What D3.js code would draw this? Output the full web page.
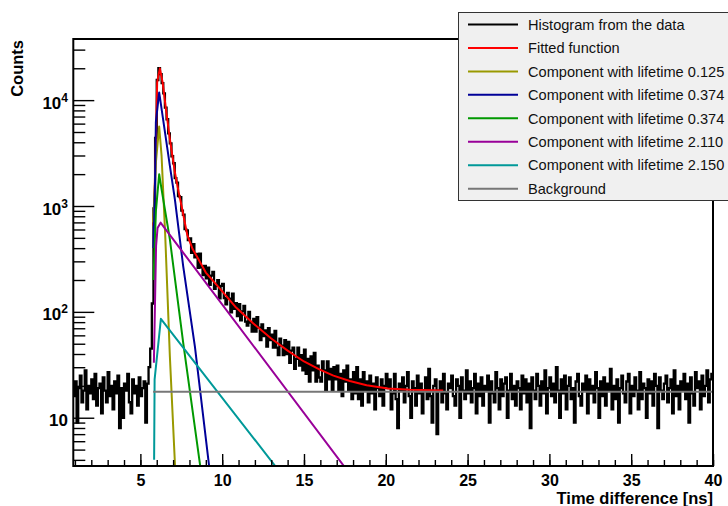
<!DOCTYPE html>
<html><head><meta charset="utf-8">
<script src="https://cdn.jsdelivr.net/npm/d3@7"></script>
<style>body{margin:0;background:#fff}svg{display:block}</style>
</head><body>
<svg id="c" width="728" height="506"></svg>
<script>
// ---------- data ----------
const histStart = 0.9, histWidth = 0.1;
const histBaseline = [16,22,9,19,25,14,18,28,12,20,17,23,15,26,13,19,21,11,24,18,14,27,16,20,12,22,17,25,8,19,10,21,18,26,14,11,23,17,20,13,24,16,19,22,9];
const histRise = [21,30,45,120,950,4400,15500,20000,17600];
const histTail = [14500,11600,8500,6600,4850,3900,2950,
  2533,1834,1664,1237,1212,906,827,605,589,477,
  494,360,435,328,352,261,354,263,223,272,
  207,261,180,220,239,165,176,199,134,176,
  184,135,118,151,133,99,149,107,121,91,
  118,83,101,114,81,74,100,79,65,86,
  65,89,71,54,76,59,67,47,70,54,
  61,46,66,46,39,56,48,39,54,40,
  52,33,43,46,29,36,46,31,39,28,
  44,26,36,22,38,28,41,22,31,24,
  22,34,28,18,34,23,29,18,30,23,
  31,18,26,16,28,22,31,18,23,15,
  27,17,30,15,23,13,27,18];
const histLate = [22,14,25,17,21,12,24,19,16,23,13,20,26,
  19,23,12,17,26,15,8,21,18,24,
  14,20,27,16,10,22,19,13,25,17,
  21,11,18,24,15,29,16,9,20,23,
  7,18,22,14,26,17,12,21,19,25,
  16,13,23,20,10,24,18,15,28,17,
  22,14,19,26,11,21,16,24,13,20,
  18,25,9,22,17,14,27,19,12,23,
  16,21,24,10,18,26,15,20,13,22,
  19,12,25,17,23,14,21,8,24,18,
  15,26,20,13,22,17,28,11,19,24,
  16,21,14,30,18,10,23,17,25,12,
  20,24,15,19,9,22,26,16,13,21,
  18,25,11,23,17,20,14,27,19,10,
  22,16,24,13,21,18,29,12,20,15,
  23,9,19,25,17,14,22,26,11,20,
  16,24,18,12,27,15,21,19,10,23,
  17,22,13,26,20,8,24,18,15,21,
  25,14,19,23,11,28,16,20,12,22,
  18,26,15,21,9,24,17,13,27,19,
  22,12,25,16,20,28,14,23,26];
const histCounts = histBaseline.concat(histRise, histTail, histLate);

const fitCurve = [[5.80,650],[5.886,1675],[6.027,14800],[6.19,19950],[6.357,14800],[6.6,7400],[6.803,4275],[7.109,2082],[7.35,1330],[7.518,1000],[7.87,530],[8.2,390],[8.5,325],[9.0,235],[9.86,166],[10.8,112],[11.89,78],[13.0,56],[14.0,43],[15.0,34],[15.97,28.5],[16.8,25],[17.8,22.2],[18.83,20.3],[20.13,18.9],[21.5,18.4],[23.51,18.1]];
const comp0125 = [[5.78,700],[5.95,2600],[6.149,5640],[6.296,2970],[6.516,539],[6.803,37.8],[7.13,3.2]];
const comp0374a = [[5.80,400],[5.90,1800],[5.947,6190],[6.149,11830],[6.803,2390],[7.109,1156],[7.414,483],[7.616,270],[8.331,47.3],[9.22,3.3]];
const comp0374b = [[5.80,200],[5.95,900],[6.149,1995],[6.296,1438],[6.803,483],[7.616,51.3],[8.68,3.3]];
const comp2110 = [[5.825,33],[5.96,420],[6.05,620],[6.235,696],[17.6,3.24]];
const comp2150 = [[5.84,4.0],[5.87,23],[6.253,86],[13.4,3.25]];
const background = [[5.78,17.6],[40,17.6]];

const xMajorTicks = [5,10,15,20,25,30,35,40];
const xMinorTicks = d3.range(1,41);
const yMajorTicks = [10,100,1000,10000];
const yMajorLabels = [["10",""],["10","2"],["10","3"],["10","4"]];
const yMinorTicks = [4,5,6,7,8,9,20,30,40,50,60,70,80,90,200,300,400,500,600,700,800,900,2000,3000,4000,5000,6000,7000,8000,9000,20000,30000];

const legendLabels = ["Histogram from the data","Fitted function","Component with lifetime 0.125","Component with lifetime 0.374","Component with lifetime 0.374","Component with lifetime 2.110","Component with lifetime 2.150","Background"];
const seriesColors = ["#000000","#ff0000","#999900","#000099","#009900","#990099","#009999","#777777"];

// ---------- layout ----------
const svg = d3.select("#c");
const L = 73.3, R = 713, T = 39, B = 466;
const x = d3.scaleLinear().domain([0.9, 40]).range([L, R]);
const y = d3.scaleLog().domain([3.5, 37800]).range([B, T]);
const font = "'Liberation Sans', Arial, Helvetica, sans-serif";

svg.append("rect").attr("width",728).attr("height",506).attr("fill","#fff");

svg.append("clipPath").attr("id","clip").append("rect")
  .attr("x",L).attr("y",T).attr("width",R-L).attr("height",B-T);

const plot = svg.append("g").attr("clip-path","url(#clip)");

// histogram
const histPts = histCounts.map((c,i)=>[histStart + i*histWidth, c]);
histPts.push([histStart + histCounts.length*histWidth, histCounts[histCounts.length-1]]);
const stepLine = d3.line().x(d=>x(d[0])).y(d=>y(d[1])).curve(d3.curveStepAfter);
plot.append("path").attr("d", stepLine(histPts)).attr("fill","none")
  .attr("stroke", seriesColors[0]).attr("stroke-width",2.3);

const ln = d3.line().x(d=>x(d[0])).y(d=>y(d[1]));
const curves = [fitCurve, comp0125, comp0374a, comp0374b, comp2110, comp2150, background];
curves.forEach((c,i)=>{
  plot.append("path").attr("d", ln(c)).attr("fill","none")
    .attr("stroke", seriesColors[i+1]).attr("stroke-width",2)
    .attr("stroke-linejoin","round");
});

// axes
const gx = svg.append("g").attr("transform",`translate(0,${B})`);
gx.call(d3.axisBottom(x).tickValues(xMinorTicks).tickSize(-6).tickFormat(""));
gx.call(g=>g.select(".domain").remove());
const gx2 = svg.append("g").attr("transform",`translate(0,${B})`);
gx2.call(d3.axisBottom(x).tickValues(xMajorTicks).tickSize(-12).tickPadding(8.5).tickFormat(d3.format("d")));
gx2.select(".domain").remove();
gx2.selectAll("text").attr("font-family",font).attr("font-weight","bold")
  .attr("font-size",16).attr("fill","#000");

const gy = svg.append("g").attr("transform",`translate(${L},0)`);
gy.call(d3.axisLeft(y).tickValues(yMinorTicks).tickSize(-12).tickFormat(""));
gy.select(".domain").remove();
const gy2 = svg.append("g").attr("transform",`translate(${L},0)`);
gy2.call(d3.axisLeft(y).tickValues(yMajorTicks).tickSize(-21).tickFormat(""));
gy2.select(".domain").remove();
svg.selectAll("g.tick line").attr("stroke","#000").attr("stroke-width",1.4);

yMajorTicks.forEach((v,i)=>{
  const t = svg.append("text").attr("x",68).attr("y",y(v)+8.5)
    .attr("text-anchor","end").attr("font-family",font).attr("font-weight","bold")
    .attr("font-size",17).attr("fill","#000");
  t.append("tspan").text(yMajorLabels[i][0]);
  if (yMajorLabels[i][1]) t.append("tspan").attr("font-size",12).attr("dy",-7).text(yMajorLabels[i][1]);
});

// frame
svg.append("rect").attr("x",L).attr("y",T).attr("width",R-L).attr("height",B-T)
  .attr("fill","none").attr("stroke","#000").attr("stroke-width",2);

// axis titles
svg.append("text").attr("x",R).attr("y",503.5).attr("text-anchor","end")
  .attr("font-family",font).attr("font-weight","bold").attr("font-size",16.5)
  .attr("fill","#000").text("Time difference [ns]");
svg.append("text").attr("transform",`translate(23,${T+1}) rotate(-90)`).attr("text-anchor","end")
  .attr("font-family",font).attr("font-weight","bold").attr("font-size",16.5)
  .attr("fill","#000").text("Counts");

// legend
const lg = svg.append("g");
lg.append("rect").attr("x",458.5).attr("y",12.5).attr("width",280).attr("height",188)
  .attr("fill","#f0f0f0").attr("stroke","#333").attr("stroke-width",1);
legendLabels.forEach((lab,i)=>{
  const yy = 24.5 + i*23.45;
  lg.append("line").attr("x1",468).attr("x2",518).attr("y1",yy).attr("y2",yy)
    .attr("stroke",seriesColors[i]).attr("stroke-width",2);
  lg.append("text").attr("x",528).attr("y",yy).attr("dy","0.36em")
    .attr("font-family",font).attr("font-size",14.6).attr("fill","#111").text(lab);
});
</script>
</body></html>
